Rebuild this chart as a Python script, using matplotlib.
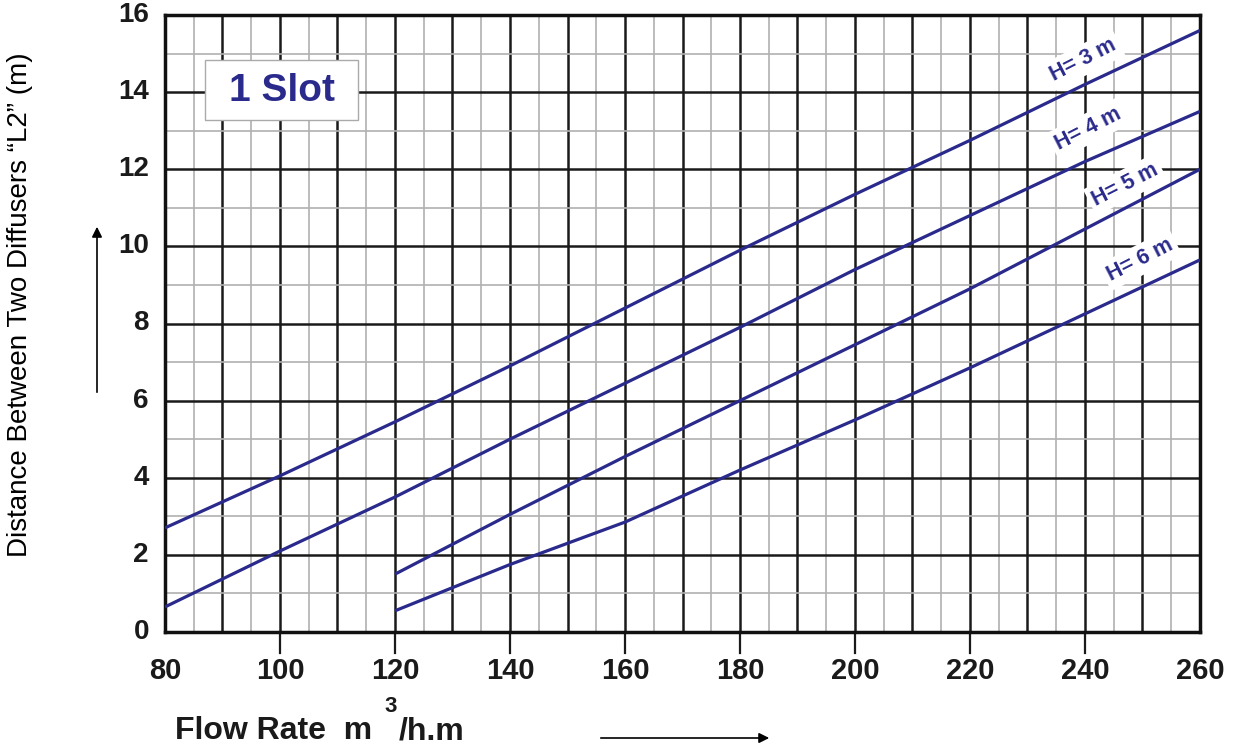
import matplotlib
matplotlib.use("Agg")
import matplotlib.pyplot as plt
from matplotlib.ticker import MultipleLocator
from matplotlib.patches import Rectangle, FancyArrowPatch

# ---- data ----
flow_h3 = [80, 100, 120, 140, 160, 180, 200, 220, 240, 260]
dist_h3 = [2.7, 4.05, 5.45, 6.9, 8.4, 9.9, 11.35, 12.75, 14.2, 15.6]
flow_h4 = [80, 100, 120, 140, 160, 180, 200, 220, 240, 260]
dist_h4 = [0.65, 2.1, 3.5, 5.0, 6.45, 7.9, 9.4, 10.8, 12.2, 13.5]
flow_h5 = [120, 140, 160, 180, 200, 220, 240, 260]
dist_h5 = [1.5, 3.05, 4.55, 6.0, 7.45, 8.9, 10.45, 12.0]
flow_h6 = [120, 140, 160, 180, 200, 220, 240, 260]
dist_h6 = [0.55, 1.75, 2.85, 4.2, 5.5, 6.85, 8.25, 9.65]
series_labels = ["H= 3 m", "H= 4 m", "H= 5 m", "H= 6 m"]
x_ticks = [80, 100, 120, 140, 160, 180, 200, 220, 240, 260]
y_ticks = [0, 2, 4, 6, 8, 10, 12, 14, 16]

navy = "#2a2a8c"
W, H = 1239, 755
fig = plt.figure(figsize=(W / 100, H / 100), dpi=100)
ax = fig.add_axes([165 / W, 1 - 632 / H, (1200 - 165) / W, (632 - 15) / H])
ax.set_xlim(80, 260)
ax.set_ylim(0, 16)

ax.xaxis.set_major_locator(MultipleLocator(10))
ax.xaxis.set_minor_locator(MultipleLocator(5))
ax.yaxis.set_major_locator(MultipleLocator(2))
ax.yaxis.set_minor_locator(MultipleLocator(1))
ax.grid(which="minor", color="#b0b0b0", lw=1.2, zorder=0)
ax.grid(which="major", color="#1a1a1a", lw=1.8, zorder=0)
ax.set_axisbelow(True)

ax.tick_params(axis="x", which="major", length=0, labelbottom=False)
ax.tick_params(axis="x", which="minor", length=0)
ax.tick_params(axis="y", which="both", length=0, labelleft=False)

# long outward ticks every 20 on x
for xv in x_ticks[1:-1]:
    ax.plot([xv, xv], [0, -0.55], color="#1a1a1a", lw=1.6, clip_on=False)
for xv in x_ticks:
    ax.text(xv, -1.02, str(xv), ha="center", va="center", fontsize=21,
            fontweight="bold", family="Liberation Sans", color="#1a1a1a")
for yv in y_ticks:
    ax.text(77.2, yv, str(yv), ha="right", va="center", fontsize=20,
            fontweight="bold", family="Liberation Sans", color="#1a1a1a")

for s in ax.spines.values():
    s.set_linewidth(2.5)
    s.set_color("#111111")

for xs, ys in [(flow_h3, dist_h3), (flow_h4, dist_h4), (flow_h5, dist_h5), (flow_h6, dist_h6)]:
    ax.plot(xs, ys, color=navy, lw=2.3, zorder=3, solid_capstyle="butt")

label_pos = [(239.7, 14.83), (240.5, 13.05), (247.0, 11.6), (249.6, 9.65)]
for (lx, ly), t in zip(label_pos, series_labels):
    ax.text(lx, ly, t, rotation=27, ha="center", va="center", fontsize=15.5,
            fontweight="bold", color=navy, family="Liberation Sans", zorder=4,
            bbox=dict(boxstyle="square,pad=0.2", fc="white", ec="none"))

# 1 Slot box
fig.add_artist(Rectangle((205 / W, 1 - 120 / H), (358 - 205) / W, 60 / H,
                         transform=fig.transFigure, fc="white", ec="#aaaaaa", lw=1, zorder=5))
fig.text(282 / W, 1 - 91 / H, "1 Slot", ha="center", va="center", fontsize=28,
         fontweight="bold", color=navy, family="Liberation Sans", zorder=6)

# y label
fig.text(20 / W, 1 - 305 / H, "Distance Between Two Diffusers \u201cL2\u201d (m)",
         rotation=90, ha="center", va="center", fontsize=20, family="Liberation Sans")
# y arrow
fig.add_artist(FancyArrowPatch(
    (97 / W, 1 - 395 / H), (97 / W, 1 - 224 / H), transform=fig.transFigure,
    arrowstyle="-|>,head_length=6,head_width=3", color="black", lw=1.2))

# x label
fig.text(175 / W, 1 - 731 / H, "Flow Rate  m", ha="left", va="center",
         fontsize=23, fontweight="bold", family="Liberation Sans", color="#1a1a1a")
fig.text(391 / W, 1 - 706 / H, "3", ha="center", va="center",
         fontsize=16, fontweight="bold", family="Liberation Sans", color="#1a1a1a")
fig.text(399 / W, 1 - 731 / H, "/h.m", ha="left", va="center",
         fontsize=23, fontweight="bold", family="Liberation Sans", color="#1a1a1a")
fig.add_artist(FancyArrowPatch(
    (598 / W, 1 - 738 / H), (772 / W, 1 - 738 / H), transform=fig.transFigure,
    arrowstyle="-|>,head_length=6,head_width=3", color="black", lw=1.2))

fig.savefig("out.png", dpi=100, facecolor="white")
